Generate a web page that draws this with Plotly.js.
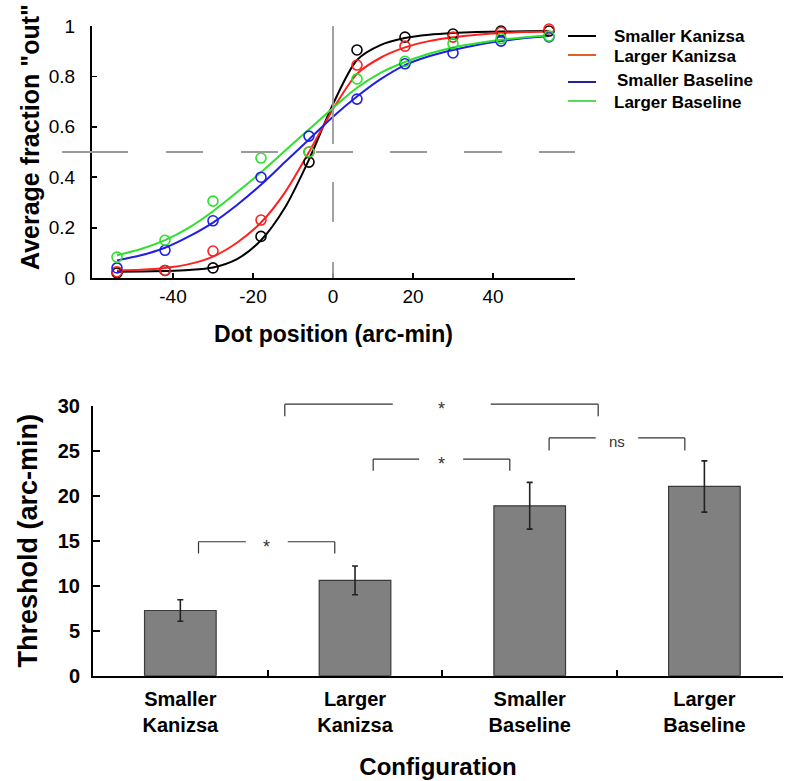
<!DOCTYPE html>
<html>
<head>
<meta charset="utf-8">
<script src="https://cdn.plot.ly/plotly-3.0.1.min.js"></script>
<style>html,body{margin:0;padding:0;background:#fff;}#chart{width:790px;height:781px;}</style>
</head>
<body>
<div id="chart"></div>
<script>
// ---------- Data: psychometric functions (top panel) ----------
const dotPosition = [-54, -42, -30, -18, -6, 6, 18, 30, 42, 54];
const smallerKanizsaPts = [0.02, 0.03, 0.04, 0.165, 0.46, 0.905, 0.956, 0.968, 0.98, 0.98];
const largerKanizsaPts = [0.025, 0.03, 0.107, 0.23, 0.50, 0.845, 0.92, 0.956, 0.975, 0.988];
const smallerBaselinePts = [0.04, 0.11, 0.227, 0.40, 0.563, 0.71, 0.85, 0.893, 0.94, 0.957];
const largerBaselinePts = [0.083, 0.15, 0.305, 0.476, 0.50, 0.79, 0.86, 0.93, 0.95, 0.96];

// fitted curves
const fitPosition = [-54, -48, -42, -36, -30, -24, -18, -12, -6, 0, 6, 12, 18, 24, 30, 36, 42, 48, 54];
const smallerKanizsaFit = [0.025, 0.026, 0.028, 0.032, 0.042, 0.075, 0.15, 0.28, 0.47, 0.69, 0.865, 0.925, 0.952, 0.965, 0.972, 0.976, 0.978, 0.979, 0.98];
const largerKanizsaFit = [0.03, 0.033, 0.04, 0.055, 0.085, 0.14, 0.22, 0.34, 0.5, 0.67, 0.81, 0.875, 0.915, 0.94, 0.955, 0.965, 0.972, 0.976, 0.978];
const smallerBaselineFit = [0.07, 0.09, 0.12, 0.165, 0.22, 0.29, 0.37, 0.46, 0.55, 0.64, 0.72, 0.79, 0.845, 0.88, 0.905, 0.925, 0.94, 0.952, 0.96];
const largerBaselineFit = [0.09, 0.115, 0.15, 0.2, 0.265, 0.34, 0.42, 0.505, 0.59, 0.675, 0.755, 0.815, 0.857, 0.89, 0.915, 0.932, 0.945, 0.955, 0.963];

const seriesNames = ['Smaller Kanizsa', 'Larger Kanizsa', 'Smaller Baseline', 'Larger Baseline'];
const xTickVals = [-40, -20, 0, 20, 40];
const xTickText = ['-40', '-20', '0', '20', '40'];

// ---------- Data: thresholds (bottom panel) ----------
const configurations = ['Smaller Kanizsa', 'Larger Kanizsa', 'Smaller Baseline', 'Larger Baseline'];
const configLabels = ['Smaller<br>Kanizsa', 'Larger<br>Kanizsa', 'Smaller<br>Baseline', 'Larger<br>Baseline'];
const thresholds = [7.25, 10.6, 18.9, 21.05];
const thresholdErr = [1.2, 1.6, 2.6, 2.85];

// significance comparisons (category-index ends, level in arc-min)
const sigPairs = [
  {from: 0.104, to: 0.884, gapFrom: 0.375, gapTo: 0.615, level: 14.9, drop: 13.6, label: '*'},
  {from: 0.598, to: 2.392, gapFrom: 1.216, gapTo: 1.777, level: 30.2, drop: 28.85, label: '*'},
  {from: 1.104, to: 1.886, gapFrom: 1.367, gapTo: 1.619, level: 24.1, drop: 22.8, label: '*'},
  {from: 2.111, to: 2.888, gapFrom: 2.378, gapTo: 2.621, level: 26.45, drop: 25.05, label: 'ns'}
];

// ---------- Styles ----------
const FONT = 'Liberation Sans, Arial, Helvetica, sans-serif';
const curveColors = ['#000000', '#ff1f1f', '#1f1fe6', '#2ee02e'];
const legendColors = ['#000000', '#e0602a', '#22229a', '#55dd55'];
const W = 790, H = 781;
const px = v => v / W;
const py = v => 1 - v / H;

const topX = [px(92), px(575)];
const topY = [py(278), py(26)];
const botX = [px(93), px(783)];
const botY = [py(675.7), py(406)];
const y2p = v => botY[0] + (v / 30) * (botY[1] - botY[0]);

const ptsSets = [smallerKanizsaPts, largerKanizsaPts, smallerBaselinePts, largerBaselinePts];
const fitSets = [smallerKanizsaFit, largerKanizsaFit, smallerBaselineFit, largerBaselineFit];

const traces = [];
fitSets.forEach((ys, i) => {
  traces.push({
    type: 'scatter', mode: 'lines', x: fitPosition, y: ys, name: seriesNames[i],
    xaxis: 'x', yaxis: 'y', line: {color: curveColors[i], width: 2, shape: 'spline', smoothing: 0.8},
    showlegend: false, hoverinfo: 'skip'
  });
});
ptsSets.forEach((ys, i) => {
  traces.push({
    type: 'scatter', mode: 'markers', x: dotPosition, y: ys, name: seriesNames[i],
    xaxis: 'x', yaxis: 'y', cliponaxis: false,
    marker: {symbol: 'circle-open', size: 10, color: curveColors[i], line: {width: 1.6, color: curveColors[i]}},
    showlegend: false
  });
});
traces.push({
  type: 'bar', x: configurations, y: thresholds, xaxis: 'x2', yaxis: 'y2', width: 0.41,
  marker: {color: '#808080', line: {color: '#3a3a3a', width: 1.2}},
  error_y: {type: 'data', array: thresholdErr, visible: true, color: '#222', thickness: 1.6, width: 3},
  showlegend: false
});

const shapes = [];
const annotations = [];

// reference dashed lines (top panel)
shapes.push({type: 'line', xref: 'paper', yref: 'y', x0: px(62), x1: px(575), y0: 0.5, y1: 0.5,
  line: {color: '#9a9a9a', width: 1.8, dash: '66px,38px,37px,38px,37px,38px,37px,37px,37px,37px,38px,37px,37px'}});
shapes.push({type: 'line', xref: 'x', yref: 'y', x0: 0, x1: 0, y0: 1, y1: 0,
  line: {color: '#9a9a9a', width: 1.8, dash: '118px,38px,40px,40px,20px'}});

// legend (top panel)
const legLineY = [36, 55, 82, 101];
const legTextY = [36, 57, 81, 102];
const legTextX = [612, 612, 615, 612];
seriesNames.forEach((n, i) => {
  shapes.push({type: 'line', xref: 'paper', yref: 'paper', x0: px(568), x1: px(596), y0: py(legLineY[i]), y1: py(legLineY[i]),
    line: {color: legendColors[i], width: 2}});
  annotations.push({xref: 'paper', yref: 'paper', x: px(legTextX[i]), y: py(legTextY[i]), xanchor: 'left', yanchor: 'middle',
    text: n, showarrow: false, font: {family: FONT, size: 17, weight: 'bold', color: '#000'}});
});

// top y title
annotations.push({xref: 'paper', yref: 'paper', x: px(30), y: py(137), xanchor: 'center', yanchor: 'middle',
  textangle: -90, text: 'Average fraction "out"', showarrow: false,
  font: {family: FONT, size: 25, weight: 'bold', color: '#000'}});

// significance brackets
sigPairs.forEach(s => {
  const L = {color: '#333', width: 1.2};
  shapes.push({type: 'line', xref: 'x2', yref: 'paper', x0: s.from, x1: s.from, y0: y2p(s.drop), y1: y2p(s.level), line: L});
  shapes.push({type: 'line', xref: 'x2', yref: 'paper', x0: s.from, x1: s.gapFrom, y0: y2p(s.level), y1: y2p(s.level), line: L});
  shapes.push({type: 'line', xref: 'x2', yref: 'paper', x0: s.gapTo, x1: s.to, y0: y2p(s.level), y1: y2p(s.level), line: L});
  shapes.push({type: 'line', xref: 'x2', yref: 'paper', x0: s.to, x1: s.to, y0: y2p(s.drop), y1: y2p(s.level), line: L});
  const isStar = s.label === '*';
  annotations.push({xref: 'x2', yref: 'paper', x: (s.gapFrom + s.gapTo) / 2, y: y2p(s.level + (isStar ? -0.55 : -0.35)),
    xanchor: 'center', yanchor: 'middle', text: s.label, showarrow: false,
    font: {family: FONT, size: isStar ? 18 : 15, color: '#333'}});
});

const axisCommon = {
  showline: true, linecolor: '#000', linewidth: 2, showgrid: false, zeroline: false,
  ticks: 'inside', tickcolor: '#000', tickwidth: 1.8, fixedrange: true
};

const layout = {
  width: W, height: H,
  margin: {l: 0, r: 0, t: 0, b: 0},
  paper_bgcolor: '#fff', plot_bgcolor: 'rgba(0,0,0,0)',
  showlegend: false,
  font: {family: FONT, color: '#000'},
  xaxis: Object.assign({}, axisCommon, {
    domain: topX, anchor: 'y', range: [-60.25, 60.5], tickvals: xTickVals, ticktext: xTickText, ticklen: 5,
    tickfont: {family: FONT, size: 19, color: '#000'}, ticklabelstandoff: 0,
    title: {text: 'Dot position (arc-min)', font: {family: FONT, size: 23, weight: 'bold', color: '#000'}, standoff: 20}
  }),
  yaxis: Object.assign({}, axisCommon, {
    domain: topY, anchor: 'x', range: [0, 1], dtick: 0.2, tick0: 0, ticklen: 5,
    tickfont: {family: FONT, size: 19, color: '#000'}, ticklabelstandoff: 11
  }),
  xaxis2: Object.assign({}, axisCommon, {
    domain: botX, anchor: 'y2', type: 'category', range: [-0.5, 3.45],
    tickvals: configurations, ticktext: configLabels, tickson: 'boundaries', ticklen: 6,
    tickfont: {family: FONT, size: 20, weight: 'bold', color: '#000'}, ticklabelstandoff: 4,
    title: {text: 'Configuration', font: {family: FONT, size: 24, weight: 'bold', color: '#000'}, standoff: 23}
  }),
  yaxis2: Object.assign({}, axisCommon, {
    domain: botY, anchor: 'x2', range: [0, 30], dtick: 5, tick0: 0, ticklen: 7,
    tickfont: {family: FONT, size: 20, weight: 'bold', color: '#000'}, ticklabelstandoff: 7,
    title: {text: 'Threshold (arc-min)', font: {family: FONT, size: 27, weight: 'bold', color: '#000'}, standoff: 12}
  }),
  shapes: shapes,
  annotations: annotations
};

Plotly.newPlot('chart', traces, layout, {displayModeBar: false, staticPlot: true});
</script>
</body>
</html>
